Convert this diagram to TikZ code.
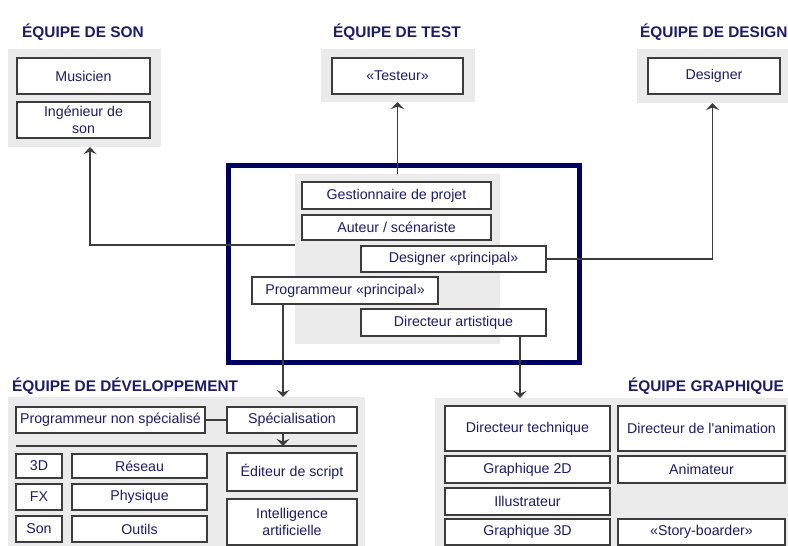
\documentclass[tikz,border=0pt]{standalone}
\usepackage{fontspec}
\setmainfont{Liberation Sans}
\usetikzlibrary{arrows.meta,calc}
\definecolor{txtblue}{RGB}{28,28,105}
\definecolor{navy}{RGB}{0,0,96}
\definecolor{grpgrey}{RGB}{235,235,235}
\definecolor{edge}{RGB}{60,60,60}
\tikzset{
  box/.style={draw=edge,line width=1.3pt,fill=white,inner sep=0pt,outer sep=0pt,align=center,text=txtblue,font=\fontsize{14.2}{17}\selectfont},
  grp/.style={fill=grpgrey,draw=none,inner sep=0pt,outer sep=0pt},
  ttl/.style={anchor=base west,inner sep=0pt,text=txtblue,font=\fontsize{15.4}{17}\selectfont\bfseries},
  conn/.style={draw=edge,line width=1.2pt},
  arr/.style={conn,-{Stealth[length=7pt,width=13pt,inset=2.5pt]}}
}
\newcommand\rbox[6]{\node[box,anchor=north west,minimum width={(#4-#2)*1pt},minimum height={(#5-#3)*1pt}] (#1) at (#2,#3) {#6};}
\newcommand\rgrp[5]{\node[grp,anchor=north west,minimum width={(#4-#2)*1pt},minimum height={(#5-#3)*1pt}] (#1) at (#2,#3) {};}
\begin{document}
\begin{tikzpicture}[x=1pt,y=-1pt]
\useasboundingbox (0,0) rectangle (788,546);
% --- top groups
\node[ttl] (tson) at (22,37) {ÉQUIPE DE SON};
\rgrp{songrp}{8}{49}{161}{147}
\rbox{musicien}{17}{58}{150}{94}{Musicien}
\rbox{ingson}{17}{102}{150}{138}{Ingénieur de\\son}

\node[ttl] (ttest) at (333,37) {ÉQUIPE DE TEST};
\rgrp{testgrp}{321}{49}{475}{102}
\rbox{testeur}{332}{58}{463}{94}{«Testeur»}

\node[ttl] (tdesign) at (640,37) {ÉQUIPE DE DESIGN};
\rgrp{designgrp}{637}{49}{788}{103}
\rbox{designer}{648}{58}{780}{94}{Designer}

% --- central core
\node[draw=navy,line width=5pt,inner sep=0pt,outer sep=0pt,anchor=north west,minimum width=351pt,minimum height=197pt] (core) at (228,165) {};
\rgrp{coregrp}{295}{174}{500}{344}
\rbox{gest}{302}{182}{491}{209}{Gestionnaire de projet}
\rbox{auteur}{302}{215}{491}{240}{Auteur / scénariste}
\rbox{desp}{361}{246}{546}{272}{Designer «principal»}
\rbox{progp}{252}{277}{438}{304}{Programmeur «principal»}
\rbox{dirart}{361}{309}{546}{336}{Directeur artistique}

% --- development team
\node[ttl] (tdev) at (12,391) {ÉQUIPE DE DÉVELOPPEMENT};
\rgrp{devgrp}{8}{397}{365}{550}
\rbox{pns}{16}{407}{205}{433}{Programmeur non spécialisé}
\rbox{spec}{227}{407}{357}{433}{Spécialisation}
\coordinate (sepl) at (16,446);
\coordinate (sepr) at (357,446);
\rbox{d3d}{16}{454}{62}{478}{3D}
\rbox{reseau}{72}{454}{207}{478}{Réseau}
\rbox{fx}{16}{484}{62}{510}{FX}
\rbox{physique}{72}{484}{207}{510}{Physique}
\rbox{son}{16}{516}{62}{542}{Son}
\rbox{outils}{72}{516}{207}{542}{Outils}
\rbox{editeur}{227}{453}{357}{491}{Éditeur de script}
\rbox{ia}{227}{499}{357}{545}{Intelligence\\artificielle}

% --- graphics team
\node[ttl,anchor=base east] (tgraph) at (784,391) {ÉQUIPE GRAPHIQUE};
\rgrp{graphgrp}{435}{398}{788}{550}
\rbox{dirtech}{445}{406}{610}{451}{Directeur technique}
\rbox{diranim}{618}{406}{785}{451}{Directeur de l\textquotesingle animation}
\rbox{g2d}{445}{456}{610}{483}{Graphique 2D}
\rbox{animateur}{618}{456}{785}{483}{Animateur}
\rbox{illus}{445}{488}{610}{515}{Illustrateur}
\rbox{g3d}{445}{519}{610}{545}{Graphique 3D}
\rbox{story}{618}{519}{785}{545}{«Story-boarder»}

% --- connectors
\coordinate (sonjoin) at (295,245);
\draw[arr] (sonjoin) -| ([xshift=5.5pt]songrp.south);
\draw[arr] (coregrp.north) -- (coregrp.north |- testgrp.south);
\draw[arr] (desp.east) -| (designgrp.south);
\draw[arr] ([xshift=31pt]progp.south west) -- ([xshift=31pt]progp.south west |- devgrp.north);
\draw[arr] ([xshift=-26pt]dirart.south east) -- ([xshift=-26pt]dirart.south east |- graphgrp.north);
\draw[conn] (pns.east) -- (spec.west);
\draw[conn] (sepl) -- (sepr);
\draw[arr] ([xshift=-9pt]spec.south) -- ([xshift=-9pt]spec.south |- sepl);
\end{tikzpicture}
\end{document}
